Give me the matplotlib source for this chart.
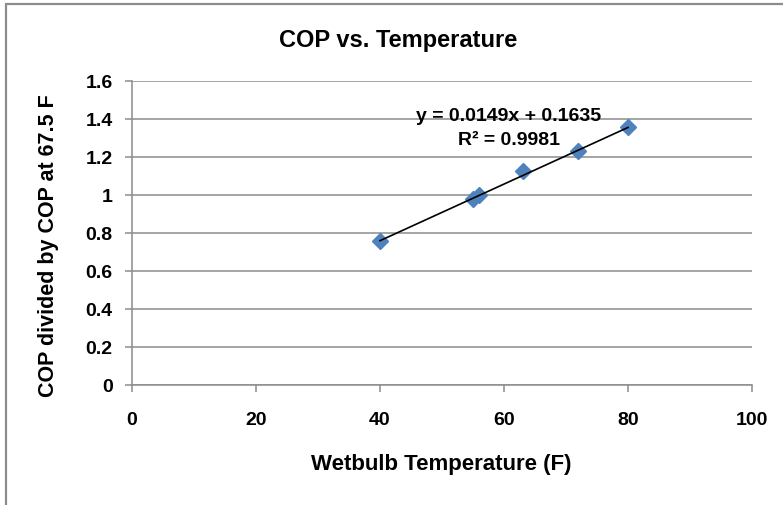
import matplotlib.pyplot as plt
from matplotlib.patches import Rectangle
from matplotlib.ticker import FuncFormatter

# wetbulb temperature (F) and normalised COP
temps = [40, 55, 56, 63, 72, 80]
cop_ratio = [0.757, 0.979, 0.998, 1.128, 1.233, 1.356]

slope = 0.0149
intercept = 0.1635
r2 = 0.9981

plt.rcParams['font.family'] = ['Liberation Sans', 'DejaVu Sans']
plt.rcParams['font.weight'] = 'bold'

W, H = 783, 506
fig = plt.figure(figsize=(W / 100, H / 100), dpi=100)
ax = fig.add_axes([132 / W, 1 - 386 / H, 620 / W, 304 / H])

# outer chart border (only left and top visible)
fig.patches.append(Rectangle((6 / W, -0.1), 1.2, (H - 4.5) / H + 0.1,
                             transform=fig.transFigure, fill=False,
                             edgecolor='#8c8c8c', linewidth=1.6))

ax.set_xlim(0, 100)
ax.set_ylim(0, 1.6)
ax.set_xticks(range(0, 101, 20))
ax.set_yticks([i * 0.2 for i in range(9)])
ax.yaxis.set_major_formatter(FuncFormatter(lambda v, p: '{:g}'.format(round(v, 1))))
ax.grid(axis='y', color='#8c8c8c', linewidth=1.1)
ax.set_axisbelow(True)

for side in ['top', 'right']:
    ax.spines[side].set_visible(False)
for side in ['left', 'bottom']:
    ax.spines[side].set_color('#8c8c8c')
    ax.spines[side].set_linewidth(1.1)
ax.tick_params(colors='#8c8c8c', length=5, width=1.1, labelsize=14,
               labelcolor='black')
ax.tick_params(axis='y', pad=9)
ax.tick_params(axis='x', pad=14)
for lab in ax.get_xticklabels() + ax.get_yticklabels():
    lab.set_fontweight('bold')

ax.plot(temps, cop_ratio, 'D', color='#4F81BD', markersize=8.5, zorder=3)
fit_x = [min(temps), max(temps)]
fit_y = [slope * x + intercept for x in fit_x]
ax.plot(fit_x, fit_y, color='black', linewidth=1.2, zorder=4)

ax.text(60.8, 1.355, 'y = {:.4f}x + {:.4f}\nR² = {:.4f}'.format(slope, intercept, r2),
        ha='center', va='center', fontsize=14, fontweight='bold',
        linespacing=1.6, zorder=5)

fig.text(398 / W, 1 - 40 / H, 'COP vs. Temperature', ha='center', va='center',
         fontsize=17, fontweight='bold')
fig.text(441 / W, 1 - 465 / H, 'Wetbulb Temperature (F)', ha='center', va='center',
         fontsize=16, fontweight='bold')
fig.text(49 / W, 1 - 246 / H, 'COP divided by COP at 67.5 F', ha='center', va='center',
         rotation=90, fontsize=15.5, fontweight='bold')

fig.savefig('out.png', dpi=100)
